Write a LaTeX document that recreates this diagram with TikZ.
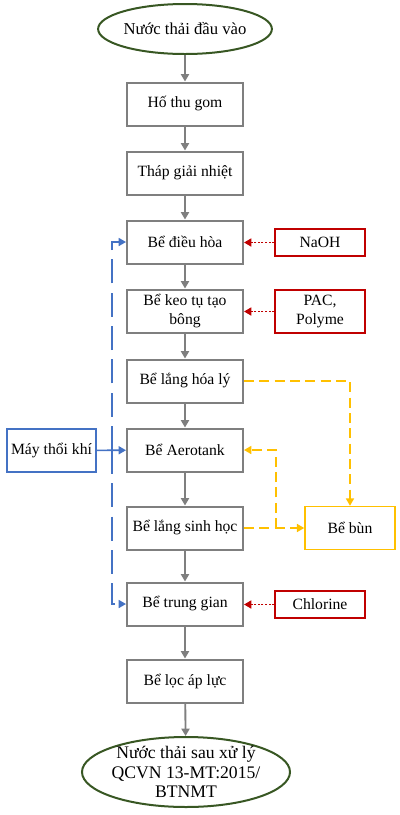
\documentclass[tikz,border=0pt]{standalone}
\usepackage{fontspec}
\setmainfont{Liberation Serif}
\usetikzlibrary{calc,shapes,arrows.meta}

\definecolor{boxgray}{HTML}{7F7F7F}
\definecolor{dkgreen}{HTML}{385723}
\definecolor{chemred}{HTML}{C00000}
\definecolor{airblue}{HTML}{4472C4}
\definecolor{sludge}{HTML}{FFC000}

\begin{document}
\begin{tikzpicture}[x=0.75pt,y=-0.75pt,
font=\fontsize{11.75}{14}\selectfont,
tank/.style={draw=boxgray, line width=1.5pt, minimum width=87pt, minimum height=32.25pt, align=center, inner sep=1pt},
flow/.style={draw=dkgreen, line width=1.5pt, ellipse, align=center, inner sep=0pt},
chem/.style={draw=chemred, line width=1.1pt, minimum width=67.5pt, align=center, inner sep=1pt},
tip/.style={-{Triangle[length=5.5pt,width=6pt]}},
main/.style={tip, draw=boxgray, line width=1.4pt},
dose/.style={tip, draw=chemred, line width=1.2pt, dash pattern=on 1.5pt off 1.2pt},
air/.style={tip, draw=airblue, line width=1.2pt},
sl/.style={tip, draw=sludge, line width=1.2pt, dash pattern=on 7.5pt off 4pt}]
	\useasboundingbox (0,0) rectangle (400,815);
	% main line
	\node[flow, minimum width=112.5pt, minimum height=37.5pt, font=\fontsize{12.5}{14}\selectfont] at (185,29) (in) {Nước thải đầu vào};
	\node[tank] at (185,104) (ho) {Hố thu gom};
	\node[tank] at (185,173) (thap) {Tháp giải nhiệt};
	\node[tank] at (185,242) (dh) {Bể điều hòa};
	\node[tank] at (185,311) (keo) {Bể keo tụ tạo\\bông};
	\node[tank] at (185,381) (lhl) {Bể lắng hóa lý};
	\node[tank] at (185,450) (aero) {Bể Aerotank};
	\node[tank] at (185,528) (lsh) {Bể lắng sinh học};
	\node[tank] at (185,604) (tg) {Bể trung gian};
	\node[tank] at (185,681) (loc) {Bể lọc áp lực};
	\node[flow, minimum width=156pt, minimum height=52.5pt, inner sep=-10pt, font=\fontsize{13.25}{14.6}\selectfont] at (186,772) (out) {Nước thải sau xử lý\\QCVN 13-MT:2015/\\BTNMT};
	\draw[main] (in) -- (ho);
	\draw[main] (ho) -- (thap);
	\draw[main] (thap) -- (dh);
	\draw[main] (dh) -- (keo);
	\draw[main] (keo) -- (lhl);
	\draw[main] (lhl) -- (aero);
	\draw[main] (aero) -- (lsh);
	\draw[main] (lsh) -- (tg);
	\draw[main] (tg) -- (loc);
	\draw[main] (loc) -- (out);
	% chemicals
	\node[chem, minimum height=20.25pt] at (320,242.5) (naoh) {NaOH};
	\node[chem, minimum height=32.25pt] at (320,311.5) (pac) {PAC,\\Polyme};
	\node[chem, minimum height=20.25pt] at (320,604.5) (cl) {Chlorine};
	\draw[dose] (naoh) -- (naoh -| dh.east);
	\draw[dose] (pac) -- (pac -| keo.east);
	\draw[dose] (cl) -- (cl -| tg.east);
	% air
	\node[draw=airblue, line width=1.1pt, minimum width=66.75pt, minimum height=32.25pt, inner sep=1pt] at (51.5,450.5) (may) {Máy thổi khí};
	\coordinate (bj) at (112,450);
	\draw[air] (may) -- (aero);
	\draw[air, dash pattern=on 18pt off 7pt] (bj) |- (dh.west);
	\draw[air, dash pattern=on 18pt off 7pt] (bj) |- (tg.west);
	% sludge
	\node[draw=sludge, line width=1.1pt, minimum width=67.5pt, minimum height=32.25pt] at (350,528) (bun) {Bể bùn};
	\coordinate (yj) at (276,528);
	\draw[sl] (lhl.east) -| (bun.north);
	\draw[sl] (lsh.east) -- (bun.west);
	\draw[sl] (yj) |- (aero.east);
\end{tikzpicture}
\end{document}
